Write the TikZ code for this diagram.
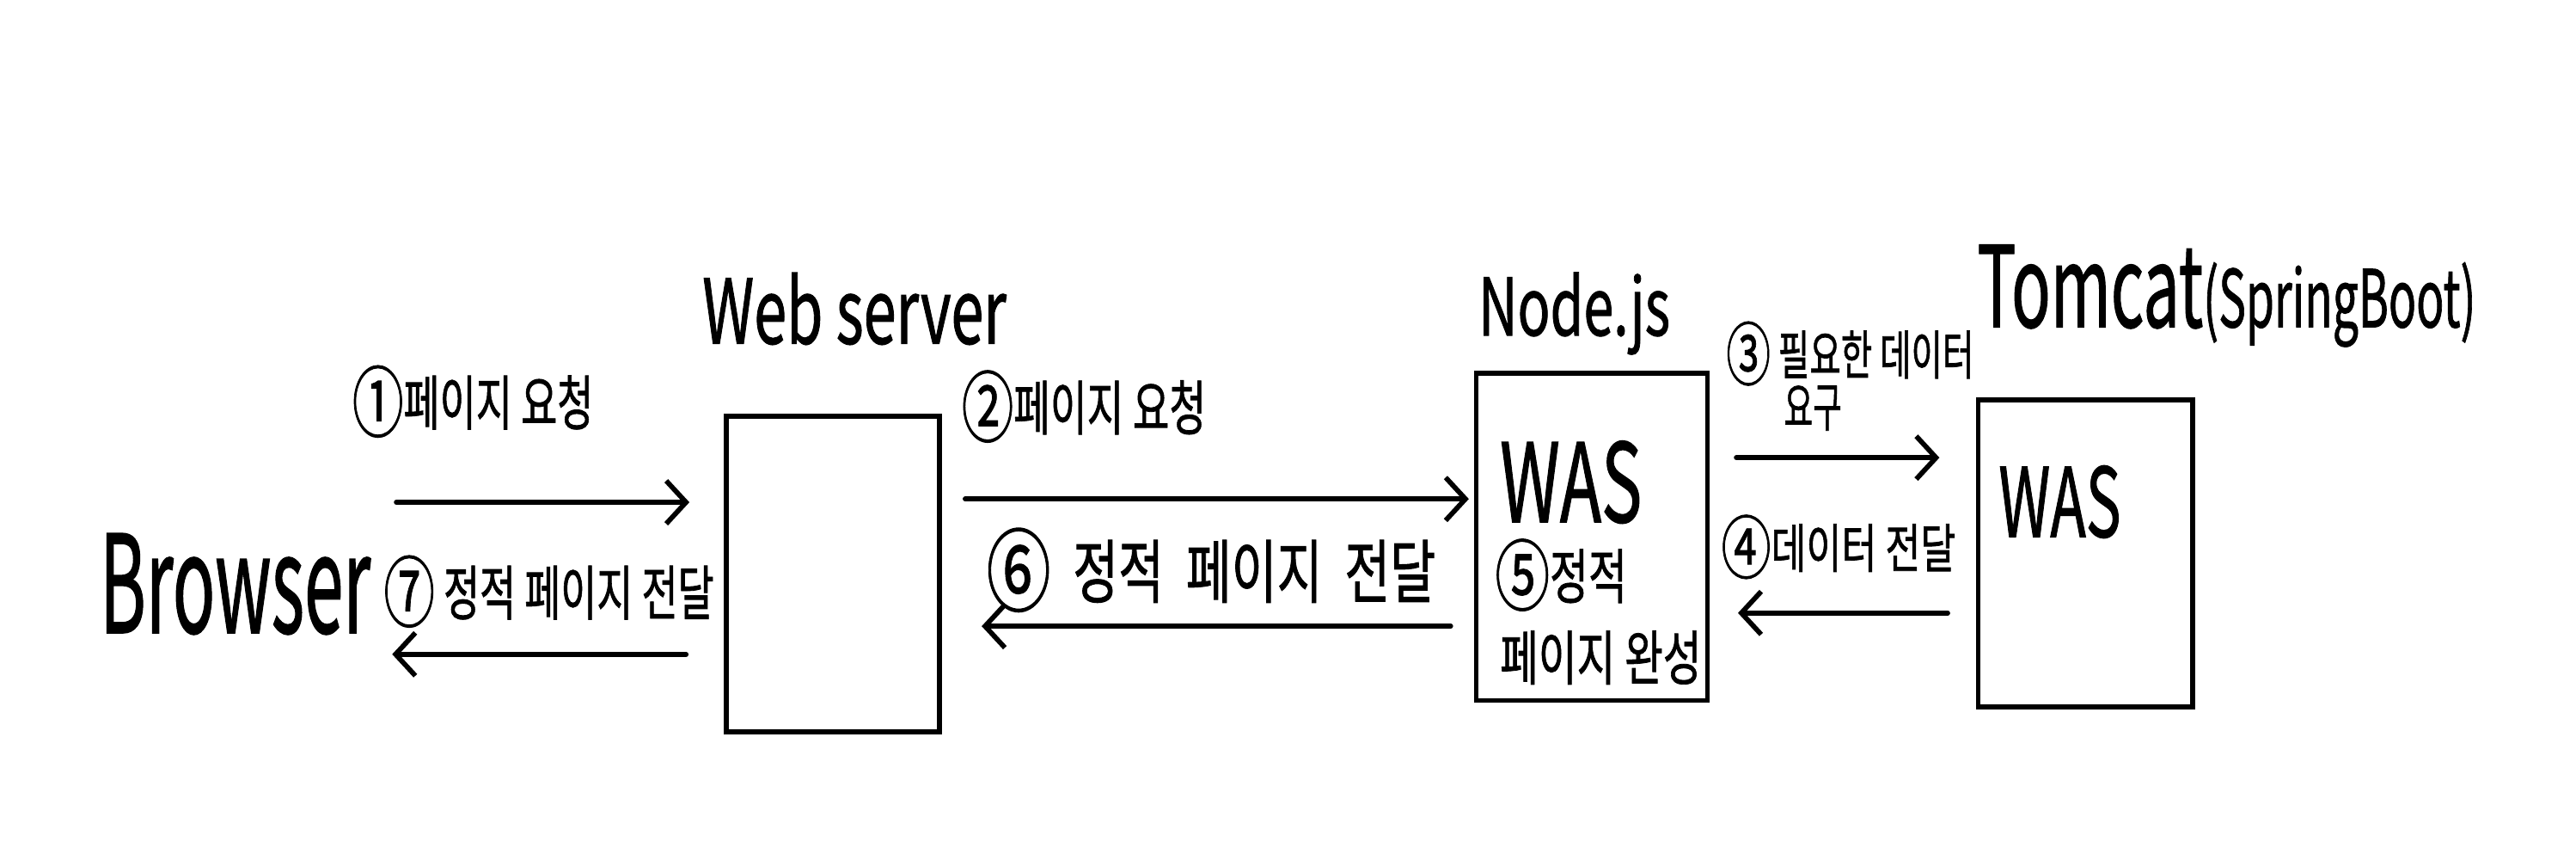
\documentclass[tikz,border=0pt]{standalone}
\usepackage{fontspec}
\usepackage{graphicx}
\usetikzlibrary{arrows.meta}
\newfontfamily\hwfont{Noto Sans CJK KR}[FakeBold=1.2]
\newcommand\fitw[3]{\resizebox{#1}{\height}{\fontsize{#2}{#2}\selectfont #3}}
\newcommand\cnum[1]{\raisebox{-0.1em}{\scalebox{1.3}{#1}}}
\begin{document}
\begin{tikzpicture}[x=0.5pt,y=-0.5pt,
  box/.style={draw, line width=1.5pt, inner sep=0pt},
  arr/.style={-{Straight Barb[length=6pt,width=13pt,line width=1.5pt]}, line width=1.5pt, line cap=round},
  lbl/.style={inner sep=0pt, anchor=west, font=\hwfont},
  lblb/.style={inner sep=0pt, anchor=base west, font=\hwfont}]
\fill[white] (0,0) rectangle (1560,520.5);
\useasboundingbox (0,0) rectangle (1560,520.5);

% boxes
\node[box, minimum width=64.5pt, minimum height=95.5pt] (ws) at (504.5,347.5) {};
\node[box, minimum width=70pt, minimum height=99pt] (nj) at (964,325) {};
\node[box, minimum width=65pt, minimum height=93pt] (tc) at (1263,335) {};

% titles
\node[lblb] (wst) at (425,208) {\fitw{92pt}{27pt}{Web server}};
\node[lblb] (br) at (60,383) {\fitw{82pt}{41pt}{Browser}};
\node[lblb] (njt) at (895,203) {\fitw{58pt}{24pt}{Node.js}};
\node[lblb] (tct) at (1197,198) {\fitw{151pt}{34pt}{Tomcat{\fontsize{24pt}{24pt}\selectfont(SpringBoot)}}};
\node[lblb] (was1) at (908,316) {\fitw{43pt}{33pt}{WAS}};
\node[lblb] (was2) at (1210,325) {\fitw{37pt}{29pt}{WAS}};

% labels
\node[lbl] (l1) at (213,243) {\fitw{73pt}{18pt}{\cnum{①}페이지 요청}};
\node[lbl] (l7) at (232,358) {\fitw{100pt}{18pt}{\cnum{⑦} 정적 페이지 전달}};
\node[lbl] (l2) at (582,246) {\fitw{74pt}{18pt}{\cnum{②}페이지 요청}};
\node[lbl] (l6) at (597,345) {\fitw{136pt}{21pt}{\cnum{⑥}\ \ 정적 \ 페이지 \ 전달}};
\node[lbl] (l5a) at (905,348) {\fitw{40pt}{18pt}{\cnum{⑤}정적}};
\node[lbl] (l5b) at (908,398) {\fitw{61pt}{18pt}{페이지 완성}};
\node[lbl] (l3a) at (1045,214) {\fitw{75pt}{16pt}{\cnum{③} 필요한 데이터}};
\node[lbl] (l3b) at (1080,247) {\fitw{17.5pt}{16pt}{요구}};
\node[lbl] (l4) at (1042,331) {\fitw{71pt}{16pt}{\cnum{④}데이터 전달}};

% arrow levels
\coordinate (a1) at (240,304);
\coordinate (a7) at (237.5,396);
\coordinate (y2) at (0,302);
\coordinate (y6) at (0,379);
\coordinate (y3) at (0,277);
\coordinate (y4) at (0,371);

\draw[arr, shorten >=10.5pt] (a1) -- (a1 -| ws.west);
\draw[arr, shorten <=11.5pt] (a7 -| ws.west) -- (a7);
\draw[arr, shorten <=7pt, shorten >=1.5pt] (ws.east |- y2) -- (nj.west |- y2);
\draw[arr, shorten <=7pt, shorten >=12pt] (nj.west |- y6) -- (ws.east |- y6);
\draw[arr, shorten <=8pt, shorten >=11pt] (nj.east |- y3) -- (tc.west |- y3);
\draw[arr, shorten <=8.5pt, shorten >=8.5pt] (tc.west |- y4) -- (nj.east |- y4);
\end{tikzpicture}
\end{document}
